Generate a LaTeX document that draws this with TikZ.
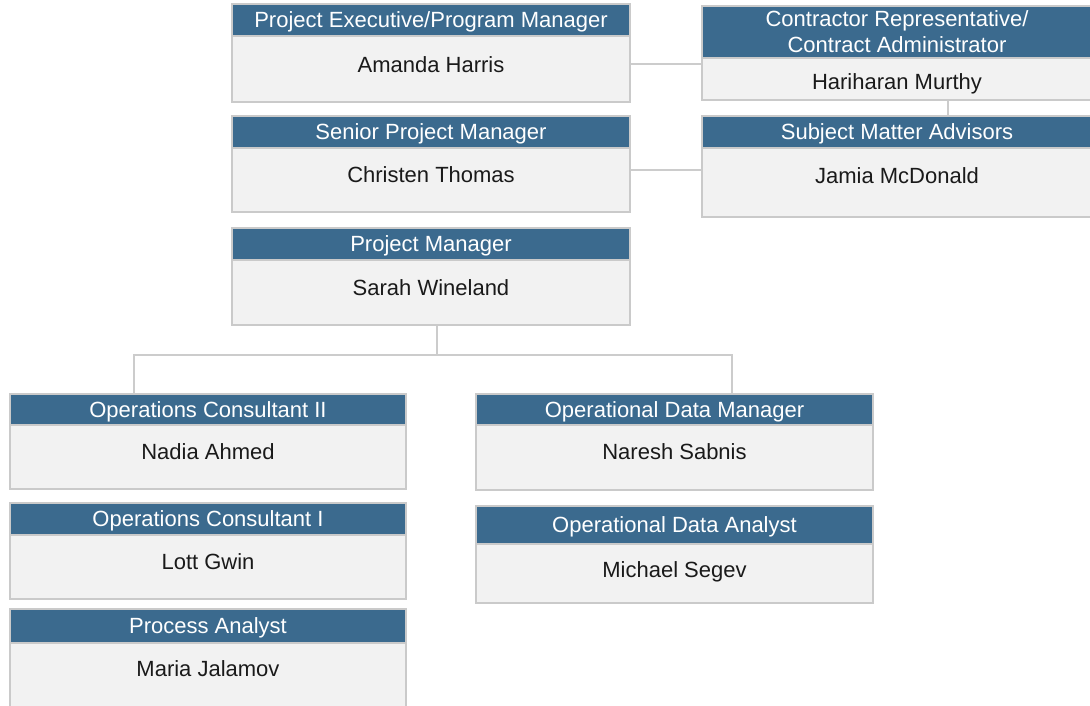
\documentclass[tikz,border=0pt]{standalone}
\usepackage{fontspec}
\setmainfont{Liberation Sans}
\definecolor{hdrblue}{HTML}{3B6A8E}
\definecolor{bodygray}{HTML}{F2F2F2}
\definecolor{bordergray}{HTML}{CACACA}
\definecolor{linegray}{HTML}{CCCCCC}
\definecolor{nametext}{HTML}{1A1A1A}
\tikzset{
  bod/.style={draw=bordergray, fill=bodygray, line width=1.3pt, inner sep=0pt, anchor=center},
  hdr/.style={draw=bordergray, fill=hdrblue, text=white, line width=1.3pt, inner sep=0pt, anchor=center,
    font=\fontsize{22}{26}\selectfont, align=center, text depth=0.5pt},
  nm/.style={text=nametext, inner sep=0pt, font=\fontsize{22}{26}\selectfont, yshift=-1pt},
  conn/.style={draw=linegray, line width=1.3pt}
}
\begin{document}
\begin{tikzpicture}[x=1pt,y=-1pt]
\useasboundingbox (0,0) rectangle (1090,706);
% Project Executive
\node[bod, minimum width=398pt, minimum height=66pt] (Ab) at (431,69) {};
\node[hdr, minimum width=398pt, minimum height=32pt] (Ah) at (431,20) {Project Executive/Program Manager};
\node[nm] (An) at (431,64) {Amanda Harris};
% Senior PM
\node[bod, minimum width=398pt, minimum height=64pt] (Bb) at (431,180) {};
\node[hdr, minimum width=398pt, minimum height=32pt] (Bh) at (431,132) {Senior Project Manager};
\node[nm] (Bn) at (431,174) {Christen Thomas};
% PM
\node[bod, minimum width=398pt, minimum height=65pt] (Cb) at (431,292.5) {};
\node[hdr, minimum width=398pt, minimum height=32pt] (Ch) at (431,244) {Project Manager};
\node[nm] (Cn) at (431,287) {Sarah Wineland};
% Contractor rep
\node[bod, minimum width=390pt, minimum height=42pt] (Db) at (897,79) {};
\node[hdr, minimum width=390pt, minimum height=52pt] (Dh) at (897,32) {Contractor Representative/\\Contract Administrator};
\node[nm] (Dn) at (897,83) {Hariharan Murthy};
% SMA
\node[bod, minimum width=390pt, minimum height=69pt] (Eb) at (897,182.5) {};
\node[hdr, minimum width=390pt, minimum height=32pt] (Eh) at (897,132) {Subject Matter Advisors};
\node[nm] (En) at (897,175) {Jamia McDonald};
% Ops consultant II
\node[bod, minimum width=396pt, minimum height=64pt] (Fb) at (208,457) {};
\node[hdr, minimum width=396pt, minimum height=31pt] (Fh) at (208,409.5) {Operations Consultant II};
\node[nm] (Fn) at (208,451) {Nadia Ahmed};
% Ops consultant I
\node[bod, minimum width=396pt, minimum height=64pt] (Gb) at (208,567) {};
\node[hdr, minimum width=396pt, minimum height=32pt] (Gh) at (208,519) {Operations Consultant I};
\node[nm] (Gn) at (208,561) {Lott Gwin};
% Process analyst
\node[bod, minimum width=396pt, minimum height=87pt] (Hb) at (208,686.5) {};
\node[hdr, minimum width=396pt, minimum height=34pt] (Hh) at (208,626) {Process Analyst};
\node[nm] (Hn) at (208,668) {Maria Jalamov};
% Ops data manager
\node[bod, minimum width=397pt, minimum height=65pt] (Ib) at (674.5,457.5) {};
\node[hdr, minimum width=397pt, minimum height=31pt] (Ih) at (674.5,409.5) {Operational Data Manager};
\node[nm] (In) at (674.5,451) {Naresh Sabnis};
% Ops data analyst
\node[bod, minimum width=397pt, minimum height=59pt] (Jb) at (674.5,573.5) {};
\node[hdr, minimum width=397pt, minimum height=38pt] (Jh) at (674.5,525) {Operational Data Analyst};
\node[nm] (Jn) at (674.5,571) {Michael Segev};
% connectors
\coordinate (y64) at (0,64);
\coordinate (y170) at (0,170);
\coordinate (bus) at (0,355);
\draw[conn] (Ab.east |- y64) -- (Dh.west |- y64);
\draw[conn] (Bb.east |- y170) -- (Eb.west |- y170);
\draw[conn] (Db.south -| 948,0) -- (Eh.north -| 948,0);
\draw[conn] (Cb.south -| 437,0) -- (bus -| 437,0);
\draw[conn] (Fh.north -| 134,0) -- (bus -| 134,0) -- (bus -| 732,0) -- (Ih.north -| 732,0);
\end{tikzpicture}
\end{document}
